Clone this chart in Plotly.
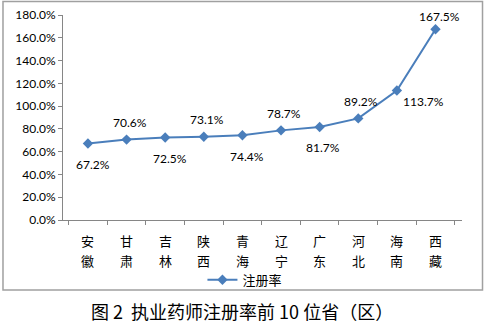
import plotly.graph_objects as go

provinces = ["安徽", "甘肃", "吉林", "陕西", "青海",
             "辽宁", "广东", "河北", "海南", "西藏"]
rates = [67.2, 70.6, 72.5, 73.1, 74.4, 78.7, 81.7, 89.2, 113.7, 167.5]
series_name = "注册率"
caption = "图 2  执业药师注册率前 10 位省（区）"

# label placement per point: (x shift, y shift) in pixels
label_shift = [(5, -21), (3, 17), (5, -21), (3, 17), (5, -21),
               (3, 17), (3, -21), (3, 17), (27, -11), (4, 13)]

num_font = dict(family="Lato, Open Sans, sans-serif", size=12, color="#000000")
cjk_font = dict(family="Noto Sans CJK SC", size=13, color="#000000")
line_color = "#4a7ebb"
axis_color = "#868686"

fig = go.Figure()
fig.add_trace(go.Scatter(
    x=provinces, y=[r / 100 for r in rates], name=series_name,
    mode="lines+markers",
    line=dict(color=line_color, width=2),
    marker=dict(symbol="diamond", size=8, color=line_color),
))

for p, r, (dx, dy) in zip(provinces, rates, label_shift):
    fig.add_annotation(x=p, y=r / 100, text=f"{r:.1f}%", showarrow=False,
                       xshift=dx, yshift=dy, font=num_font)

# category names written vertically, one character per row
for p in provinces:
    for row, ch in enumerate(p):
        fig.add_annotation(x=p, xref="x", yref="paper", y=-0.0976 - 0.0976 * row,
                           text=ch, showarrow=False, font=cjk_font,
                           yanchor="middle")

# outer chart frame
fig.add_shape(type="rect", xref="paper", yref="paper",
              x0=-0.1504, x1=1.0514, y0=-0.3415, y1=1.0659,
              line=dict(color="#a0a0a0", width=1.5))

fig.add_annotation(text=caption, xref="paper", yref="paper",
                   x=0.448, y=-0.444, showarrow=False, yanchor="middle",
                   borderpad=0,
                   font=dict(family="Noto Sans CJK SC", size=18, color="#000000"))

fig.update_layout(
    width=487, height=324,
    margin=dict(l=63, r=25, t=15, b=104),
    paper_bgcolor="white", plot_bgcolor="white",
    showlegend=True,
    legend=dict(orientation="h", x=0.456, xanchor="center", y=-0.292,
                yanchor="middle", font=cjk_font, bgcolor="rgba(0,0,0,0)",
                itemwidth=30, tracegroupgap=0),
)
fig.update_xaxes(
    type="category", showline=True, linecolor=axis_color, linewidth=1,
    ticks="outside", tickson="boundaries", ticklen=4, tickcolor=axis_color,
    showgrid=False, showticklabels=False, automargin=False,
)
fig.update_yaxes(
    range=[0, 1.8], dtick=0.2, tickformat=".1%",
    showline=True, linecolor=axis_color, linewidth=1,
    ticks="outside", ticklen=4, tickcolor=axis_color,
    showgrid=False, zeroline=False, tickfont=num_font, automargin=False,
)

fig.write_html("out.html")
